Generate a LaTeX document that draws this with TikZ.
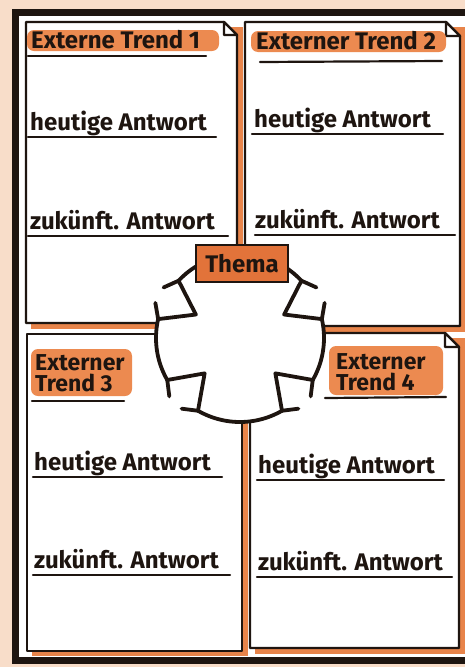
\documentclass[tikz,border=0pt]{standalone}
\usepackage{fontspec}
\setmainfont{Fira Sans}
\usetikzlibrary{calc}
\definecolor{peach}{HTML}{F8DDC9}
\definecolor{shadow}{HTML}{E8844A}
\definecolor{hl}{HTML}{EC8A50}
\definecolor{themafill}{HTML}{E2733A}
\definecolor{ink}{HTML}{1E1510}
\begin{document}
\begin{tikzpicture}[x=1pt,y=-1pt,
  cardbox/.style={fill=white, draw=ink, line width=2.4pt, line join=round},
  shadowbox/.style={fill=shadow},
  hlbox/.style={fill=hl, rounded corners=7pt},
  txt/.style={font=\fontsize{24}{26}\selectfont\bfseries, text=ink, inner sep=0pt, anchor=base west},
  twoline/.style={font=\fontsize{23}{21}\selectfont\bfseries, text=ink, inner sep=0pt, anchor=north west, align=left},
  uline/.style={draw=ink, line width=2.2pt, line cap=round},
  ring/.style={draw=ink, line width=3.8pt, line cap=round, line join=round},
  themabox/.style={fill=themafill, draw=ink, line width=2.6pt, minimum width=92pt, minimum height=37pt, inner sep=0pt, font=\fontsize{24}{26}\selectfont\bfseries, text=ink},
]
\useasboundingbox (0,0) rectangle (465,667);
\fill[peach] (0,0) rectangle (465,667);
\begin{scope}
\clip (0,0) rectangle (465,667);
% paper and outer frame
\fill[white] (15,12) rectangle (485,660);
\draw[ink, line width=7pt] (15,12) rectangle (485,660);
% shadows
\fill[shadowbox] (31,27) rectangle (243,329);
\fill[shadowbox] (250,27) rectangle (466,332);
\fill[shadowbox] (32,339) rectangle (248,656);
\fill[shadowbox] (255,338) rectangle (466,654);
% cards
\draw[cardbox] (26,22) -- (224,22) -- (237,35) -- (237,323) -- (26,323) -- cycle;
\draw[cardbox] (224,22) -- (224,35) -- (237,35) -- cycle;
\draw[cardbox] (245,22) -- (446,22) -- (460,36) -- (460,326) -- (245,326) -- cycle;
\draw[cardbox] (446,22) -- (446,36) -- (460,36) -- cycle;
\draw[cardbox] (27,334) -- (242,334) -- (242,651) -- (27,651) -- cycle;
\draw[cardbox] (250,333) -- (445,333) -- (459,347) -- (459,648) -- (250,648) -- cycle;
\draw[cardbox] (445,333) -- (445,347) -- (459,347) -- cycle;
\end{scope}
% headings
\fill[hlbox] (27,30) rectangle (219,51);
\fill[hlbox] (251,31) rectangle (446,52);
\fill[hlbox] (31,349) rectangle (132,396);
\fill[hlbox] (329,346) rectangle (443,395);
\node[txt] (t1) at (31,48) {Externe Trend 1};
\node[txt] (t2) at (256,49) {Externer Trend 2};
\node[twoline] (t3) at (35,354) {Externer\\Trend 3};
\node[twoline] (t4) at (336,353) {Externer\\Trend 4};
\draw[uline] (28,56) -- (206,56);
\draw[uline] (260,62) -- (442,61);
\draw[uline] (32,401) -- (124,401);
\draw[uline] (325,398) -- (446,397);
% answers
\node[txt] (h1) at (30,130) {heutige Antwort};
\node[txt] (z1) at (30,229) {zukünft. Antwort};
\node[txt] (h2) at (254,127) {heutige Antwort};
\node[txt] (z2) at (255,228) {zukünft. Antwort};
\node[txt] (h3) at (34,470) {heutige Antwort};
\node[txt] (z3) at (34,568) {zukünft. Antwort};
\node[txt] (h4) at (258,473) {heutige Antwort};
\node[txt] (z4) at (258,570) {zukünft. Antwort};
\draw[uline] (28,137) -- (216,137);
\draw[uline] (28,236) -- (228,236);
\draw[uline] (252,134) -- (443,134);
\draw[uline] (255,235) -- (455,235);
\draw[uline] (33,477) -- (222,477);
\draw[uline] (33,575) -- (230,575);
\draw[uline] (257,480) -- (444,480);
\draw[uline] (257,577) -- (452,577);
% central ring
\coordinate (C) at (240,338);
\fill[white] (C) circle (84);
\draw[ring] plot[domain=60:120, samples=30, smooth] ({240+84*cos(\x)},{338+84*sin(\x)});
\draw[ring] plot[domain=150:193, samples=30, smooth] ({240+84*cos(\x)},{338+84*sin(\x)});
\draw[ring] plot[domain=223:317, samples=40, smooth] ({240+84*cos(\x)},{338+84*sin(\x)});
\draw[ring] plot[domain=347:390, samples=30, smooth] ({240+84*cos(\x)},{338+84*sin(\x)});
\foreach \t in {45,135,208,332} {
  \coordinate (P1) at ({240+84*cos(\t-15)},{338+84*sin(\t-15)});
  \coordinate (P2) at ({240+84*cos(\t+15)},{338+84*sin(\t+15)});
  \coordinate (T) at ({240+50*cos(\t)},{338+50*sin(\t)});
  \coordinate (O) at ({240+98*cos(\t)},{338+98*sin(\t)});
  \draw[ring] ($(P1)!0.6!(O)$) -- (P1) -- (T) -- (P2) -- ($(P2)!0.6!(O)$);
}
\node[themabox] (thema) at (242,263.5) {Thema};
\end{tikzpicture}
\end{document}
